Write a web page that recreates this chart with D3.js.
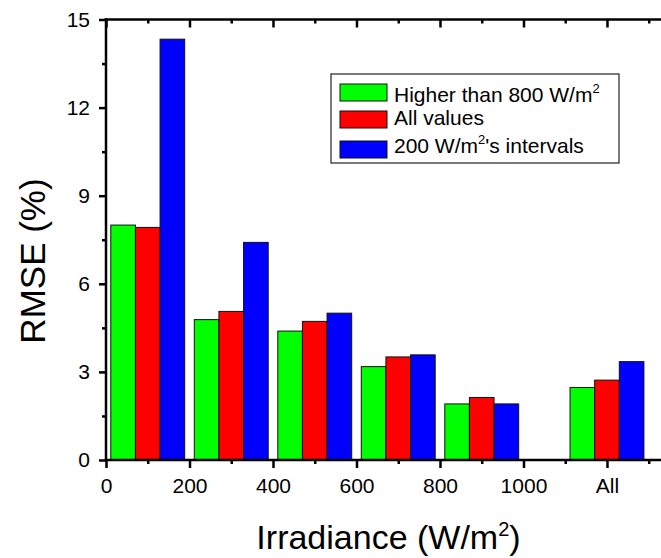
<!DOCTYPE html>
<html>
<head>
<meta charset="utf-8">
<script src="https://cdn.jsdelivr.net/npm/d3@7"></script>
<style>
  body { margin: 0; background: #fff; }
  svg { display: block; }
  text { font-family: Arial, "Liberation Sans", sans-serif; fill: #000; }
</style>
</head>
<body>
<svg id="chart" width="661" height="558"></svg>
<script>
// Irradiance bins (group centres in W/m²) and their tick labels
const tickValues = [0, 200, 400, 600, 800, 1000, 1200];
const tickLabels = ["0", "200", "400", "600", "800", "1000", "All"];
const groupCenters = [100, 300, 500, 700, 900, 1200];

// RMSE (%) per bin for each training set
const higherThan800 = [8.00, 4.78, 4.39, 3.18, 1.91, 2.47];
const allValues     = [7.92, 5.06, 4.72, 3.51, 2.13, 2.72];
const intervals200  = [14.33, 7.41, 5.00, 3.58, 1.91, 3.35];

const yTicks = [0, 3, 6, 9, 12, 15];
const yMinorTicks = [1.5, 4.5, 7.5, 10.5, 13.5];
const xMinorTicks = [100, 300, 500, 700, 900, 1100, 1300];

const series = [
  { key: "higher", values: higherThan800, color: "#00ff00" },
  { key: "all",    values: allValues,     color: "#ff0000" },
  { key: "int",    values: intervals200,  color: "#0000ff" }
];
const barWidth = 59; // in W/m² units

const svg = d3.select("#chart");
const W = 661, H = 558;
const plotLeft = 106, plotTop = 19.5, plotBottom = 460, plotRight = 669.6;

const x = d3.scaleLinear().domain([0, 1350]).range([plotLeft, plotRight]);
const y = d3.scaleLinear().domain([0, 15]).range([plotBottom, plotTop]);

// Bars
const bars = svg.append("g");
series.forEach((s, si) => {
  bars.selectAll(null)
    .data(s.values.map((v, i) => ({ v, c: groupCenters[i] })))
    .join("rect")
    .attr("x", d => x(d.c + (si - 1.5) * barWidth))
    .attr("width", d => x(barWidth) - x(0))
    .attr("y", d => y(d.v))
    .attr("height", d => y(0) - y(d.v))
    .attr("fill", s.color)
    .attr("stroke", "#111")
    .attr("stroke-width", 1);
});

const axisStroke = 2.5;
function styleAxis(g) {
  g.select(".domain").remove();
  g.selectAll(".tick line").attr("stroke", "#000").attr("stroke-width", axisStroke);
  g.selectAll(".tick text").attr("font-size", 21).attr("fill", "#000")
    .attr("font-family", "Arial, 'Liberation Sans', sans-serif");
}

// Bottom axis
svg.append("g").attr("transform", `translate(0,${plotBottom})`)
  .call(d3.axisBottom(x).tickValues(tickValues)
    .tickFormat((d, i) => tickLabels[i]).tickSize(8).tickPadding(10))
  .call(styleAxis);
svg.append("g").attr("transform", `translate(0,${plotBottom})`)
  .call(d3.axisBottom(x).tickValues(xMinorTicks).tickFormat("").tickSize(4))
  .call(styleAxis);

// Top axis (ticks pointing inward)
svg.append("g").attr("transform", `translate(0,${plotTop})`)
  .call(d3.axisBottom(x).tickValues(tickValues).tickFormat("").tickSize(8))
  .call(styleAxis);
svg.append("g").attr("transform", `translate(0,${plotTop})`)
  .call(d3.axisBottom(x).tickValues(xMinorTicks).tickFormat("").tickSize(4))
  .call(styleAxis);

// Left axis
svg.append("g").attr("transform", `translate(${plotLeft},0)`)
  .call(d3.axisLeft(y).tickValues(yTicks).tickFormat(d3.format("d")).tickSize(7).tickPadding(9))
  .call(styleAxis);
svg.append("g").attr("transform", `translate(${plotLeft},0)`)
  .call(d3.axisLeft(y).tickValues(yMinorTicks).tickFormat("").tickSize(4))
  .call(styleAxis);

// Frame lines
svg.append("line").attr("x1", plotLeft).attr("x2", plotLeft)
  .attr("y1", plotTop - 1.25).attr("y2", plotBottom + 1.25)
  .attr("stroke", "#000").attr("stroke-width", axisStroke);
svg.append("line").attr("x1", plotLeft - 1.25).attr("x2", W + 20)
  .attr("y1", plotBottom).attr("y2", plotBottom)
  .attr("stroke", "#000").attr("stroke-width", axisStroke);
svg.append("line").attr("x1", plotLeft - 1.25).attr("x2", W + 20)
  .attr("y1", plotTop).attr("y2", plotTop)
  .attr("stroke", "#000").attr("stroke-width", axisStroke);

// Axis titles
const xt = svg.append("text")
  .attr("x", 388.5).attr("y", 549)
  .attr("text-anchor", "middle").attr("font-size", 34);
xt.append("tspan").text("Irradiance (W/m");
xt.append("tspan").attr("font-size", 20).attr("dy", -13).text("2");
xt.append("tspan").attr("dy", 13).text(")");

svg.append("text")
  .attr("transform", "translate(45,261) rotate(-90)")
  .attr("text-anchor", "middle").attr("font-size", 35)
  .text("RMSE (%)");

// Legend
const legend = svg.append("g");
legend.append("rect")
  .attr("x", 331).attr("y", 74).attr("width", 288).attr("height", 89)
  .attr("fill", "#fff").attr("stroke", "#222").attr("stroke-width", 1.2);

const legendRows = [
  { color: series[0].color, swY: 84,  ty: 102, parts: [["Higher than 800 W/m"], ["2", true]] },
  { color: series[1].color, swY: 111, ty: 125, parts: [["All values"]] },
  { color: series[2].color, swY: 141, ty: 153, parts: [["200 W/m"], ["2", true], ["'s intervals"]] }
];
legendRows.forEach(r => {
  legend.append("rect")
    .attr("x", 340).attr("y", r.swY).attr("width", 47).attr("height", 17)
    .attr("fill", r.color).attr("stroke", "#111").attr("stroke-width", 1);
  const t = legend.append("text").attr("x", 394).attr("y", r.ty).attr("font-size", 21);
  let raised = false;
  r.parts.forEach(([s, sup]) => {
    const ts = t.append("tspan").text(s);
    if (sup) { ts.attr("font-size", 13).attr("dy", -9); raised = true; }
    else if (raised) { ts.attr("dy", 9); raised = false; }
  });
});
</script>
</body>
</html>
